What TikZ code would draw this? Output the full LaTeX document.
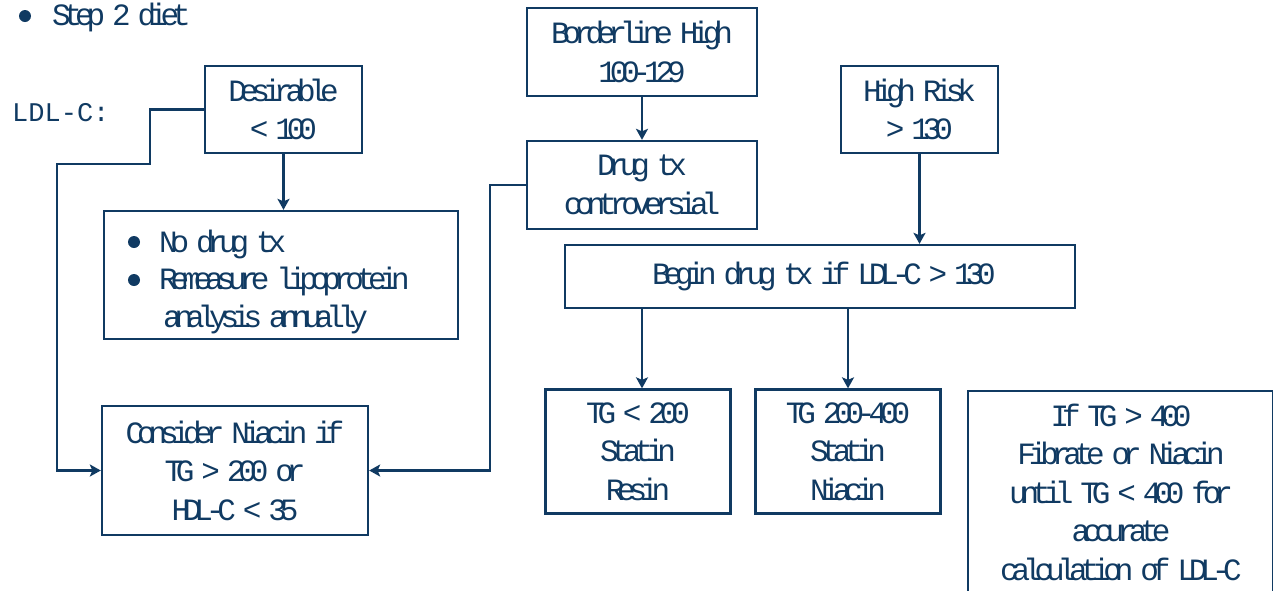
\documentclass[tikz,border=0pt]{standalone}
\usepackage{fontspec}
\setmainfont{Liberation Mono}
\newfontfamily\tightmono[LetterSpace=-23,WordSpace=0.6]{Liberation Mono}
\usetikzlibrary{arrows.meta}
\definecolor{navy}{RGB}{16,58,98}
\begin{document}
\begin{tikzpicture}[x=1pt,y=-1pt,
  box/.style={draw=navy, line width=2.3pt, text=navy, align=center, inner sep=0pt,
    font=\tightmono\fontsize{31}{38.5}\selectfont},
  txt/.style={text=navy, inner sep=0pt, font=\tightmono\fontsize{31}{38.5}\selectfont},
  conn/.style={draw=navy, line width=2.3pt, -{Stealth[length=11pt,width=12pt,inset=2.5pt]}}]
\useasboundingbox (0,0) rectangle (1273,590);
\clip (0,0) rectangle (1273,590);

% top bullet
\fill[navy] (25,16) circle (6pt);
\node[txt, anchor=base west] (step) at (52,25) {Step 2 diet};
\node[text=navy, inner sep=0pt, anchor=base west, font=\fontsize{27}{30}\selectfont] (ldl) at (12,121) {LDL-C:};

% boxes
\node[box, minimum width=157pt, minimum height=87pt] (des) at (283.5,109.5) {Desirable\\< 100};
\node[box, minimum width=354pt, minimum height=128pt] (nodrug) at (281,275) {};
\fill[navy] (134,242) circle (6pt);
\fill[navy] (134,280) circle (6pt);
\node[txt, anchor=base west] (nd1) at (159,252) {No drug tx};
\node[txt, anchor=base west] (nd2) at (159,289) {Remeasure lipoprotein};
\node[txt, anchor=base west] (nd3) at (163,327) {analysis annually};
\node[box, minimum width=266pt, minimum height=129pt] (consider) at (235,470.5) {Consider Niacin if\\TG > 200 or\\HDL-C < 35};
\node[box, minimum width=230pt, minimum height=88pt] (border) at (642,52) {Borderline High\\100-129};
\node[box, minimum width=230pt, minimum height=88pt] (drug) at (642,185) {Drug tx\\controversial};
\node[box, minimum width=157pt, minimum height=87pt] (high) at (919.5,109.5) {High Risk\\> 130};
\node[box, minimum width=510pt, minimum height=63pt] (begin) at (820,276.5) {\hspace*{8pt}Begin drug tx if LDL-C > 130};
\node[box, minimum width=185pt, minimum height=124pt] (tg1) at (638,451.5) {TG < 200\\Statin\\Resin};
\node[box, minimum width=185pt, minimum height=124pt] (tg2) at (848,451.5) {TG 200-400\\Statin\\Niacin};
\node[box, minimum width=305pt, minimum height=260pt, anchor=north west] (tg3) at (967,390) {};
\node[txt, align=center] (tg3txt) at (1121,492) {If TG > 400\\Fibrate or Niacin\\until TG < 400 for\\accurate\\calculation of LDL-C};

% connectors
\draw[conn] (des.west) -- (150,109.5) -- (150,164) -- (57,164) -- (57,470.5) -- (consider.west);
\draw[conn] (des.south) -- (des.south |- nodrug.north);
\draw[conn] (border.south) -- (drug.north);
\draw[conn] (drug.west) -- (490,185) -- (490,470.5) -- (consider.east);
\draw[conn] (high.south) -- (high.south |- begin.north);
\draw[conn] (begin.south -| border.south) -- (tg1.north -| border.south);
\draw[conn] (begin.south -| tg2.north) -- (tg2.north);
\end{tikzpicture}
\end{document}
